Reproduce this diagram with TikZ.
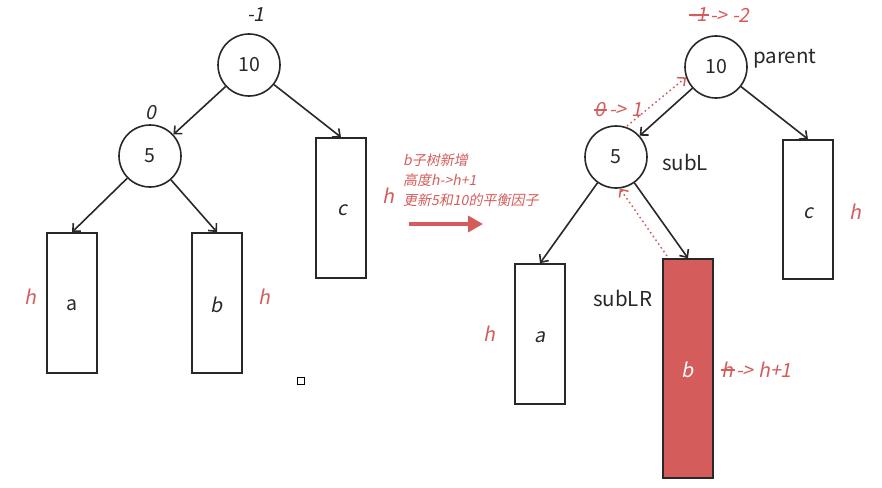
\documentclass[tikz,border=0pt]{standalone}
\usepackage{fontspec}
\setmainfont{Noto Sans CJK SC}
\newfontfamily\slfont{Noto Sans CJK SC}[FakeSlant=0.2]
\usetikzlibrary{arrows.meta}
\definecolor{ink}{RGB}{40,40,40}
\definecolor{accent}{RGB}{212,92,90}
\tikzset{
  treenode/.style={circle, draw=ink, line width=1.6pt, minimum size=62pt, inner sep=0pt, font=\fontsize{19.5}{19.5}\selectfont, text=ink},
  subtree/.style={draw=ink, line width=1.6pt, minimum width=50pt, inner sep=0pt},
  edge/.style={draw=ink, line width=1.6pt, -{Straight Barb[length=6pt,width=11pt]}},
  back/.style={draw=accent, line width=1.5pt, dash pattern=on 1.6pt off 3pt, -{Straight Barb[length=6pt,width=11pt]}},
  lbl/.style={text=ink, font=\fontsize{20.5}{20.5}\selectfont, inner sep=1pt},
  ilbl/.style={text=ink, font=\fontsize{19.5}{19.5}\slfont, inner sep=1pt},
  rlbl/.style={text=accent, font=\fontsize{19.5}{19.5}\slfont, inner sep=1pt},
  note/.style={text=accent, font=\fontsize{14}{20}\slfont, align=left, anchor=west, inner sep=0pt},
  strike/.style={draw=accent, line width=1.1pt},
}
\begin{document}
\begin{tikzpicture}[x=1pt, y=-1pt]
\useasboundingbox (0,0) rectangle (882,487);

% ---- tree before insertion ----
\node[treenode] (p1) at (249,65) {10};
\node[treenode] (l1) at (150,156) {5};
\node[subtree, minimum height=140pt] (c1) at (341,208) {};
\node[subtree, minimum height=140pt] (a1) at (72,303) {};
\node[subtree, minimum height=140pt] (b1) at (217,303) {};
\node[lbl, font=\fontsize{19.5}{19.5}\selectfont] (ta1) at (72,305) {a};
\node[ilbl] (tb1) at (217,305) {b};
\node[ilbl] (tc1) at (342,210) {c};
\node[ilbl] (bf1) at (256,15) {-1};
\node[ilbl] (bf2) at (151,113) {0};
\node[rlbl] (ha1) at (30,297) {h};
\node[rlbl] (hb1) at (264,297) {h};
\node[rlbl] (hc1) at (388,196) {h};
\node[draw=black, line width=0.9pt, minimum size=6.5pt, inner sep=0pt] (mk) at (301,381) {};

\draw[edge] (p1) -- (l1);
\draw[edge] (p1) -- (c1.north);
\draw[edge] (l1) -- (a1.north);
\draw[edge] (l1) -- (b1.north);

% ---- explanation and transition arrow ----
\node[note] (n1) at (403,160) {b子树新增};
\node[note] (n2) at (403,180) {高度h->h+1};
\node[note] (n3) at (403,200) {更新5和10的平衡因子};
\coordinate (ts) at (409,224);
\coordinate (te) at (483,224);
\draw[accent, line width=3.5pt, -{Triangle[length=15pt,width=16pt]}] (ts) -- (te);

% ---- tree after insertion ----
\node[treenode] (p2) at (716,67) {10};
\node[treenode] (l2) at (616,157) {5};
\node[subtree, minimum height=139pt] (c2) at (808,209.5) {};
\node[subtree, minimum height=140pt] (a2) at (540,334) {};
\node[subtree, minimum height=219pt, fill=accent] (b2) at (688,368.5) {};
\node[ilbl] (ta2) at (540,337) {a};
\node[ilbl, text=white] (tb2) at (688,370) {b};
\node[ilbl] (tc2) at (808,213) {c};
\node[lbl, anchor=west] (np) at (752,59) {parent};
\node[lbl, anchor=west] (ns) at (661,162) {subL};
\node[lbl, anchor=west] (nr) at (592,298) {subLR};
\node[rlbl] (hc2) at (855,212) {h};
\node[rlbl] (ha2) at (489,334) {h};

% balance factor updates, old value struck out
\node[rlbl, anchor=east] (o1) at (709,15) {-1};
\node[rlbl, anchor=west] (o1n) at (709,15) {-> -2};
\draw[strike] (o1.west) -- (o1.east);
\node[rlbl, anchor=east] (o2) at (607,110) {0};
\node[rlbl, anchor=west] (o2n) at (608,110) {-> 1};
\draw[strike] (o2.west) -- (o2.east);
\node[rlbl, anchor=east] (o3) at (735,370) {h};
\node[rlbl, anchor=west] (o3n) at (735,370) {-> h+1};
\draw[strike] (o3.west) -- (o3.east);

\draw[edge] (p2) -- (l2);
\draw[edge] (p2) -- (c2.north);
\draw[edge] (l2) -- (a2.north);
\draw[edge] (l2) -- (b2.north);

% propagation of the height change back up
\coordinate (u1) at (627,126);
\draw[back] (u1) -- (p2.199);
\coordinate (u2) at (667,256);
\draw[back] (u2) -- (l2.277);
\end{tikzpicture}
\end{document}
